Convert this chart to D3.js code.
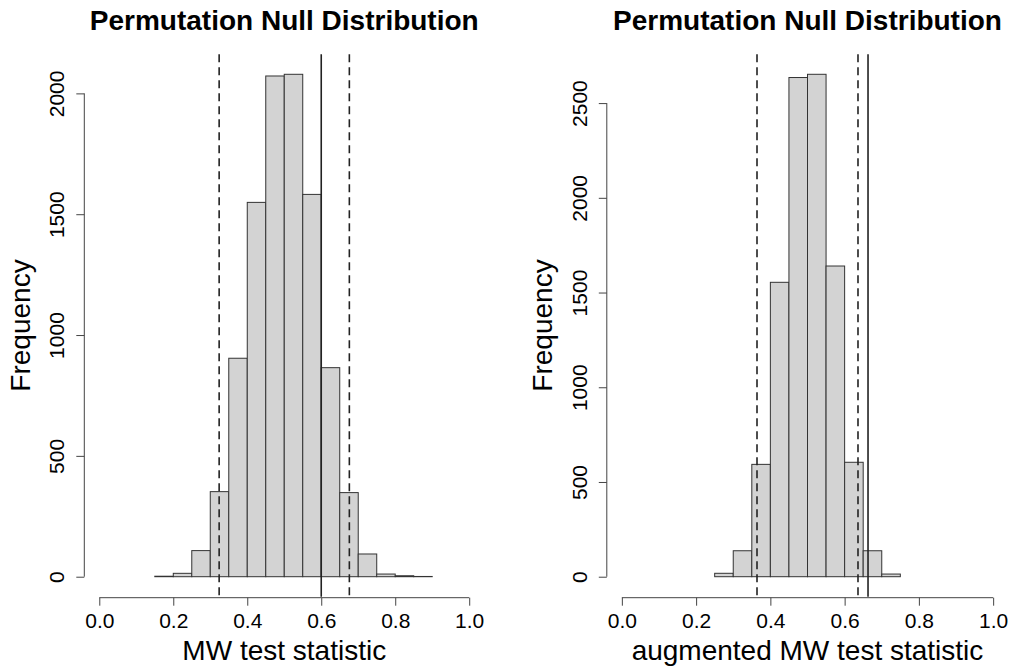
<!DOCTYPE html>
<meta charset="utf-8">
<style>
    body { margin: 0; background: #fff; }
    svg text { font-family: "Liberation Sans", Arial, sans-serif; fill: #000; }
    .bar { fill: #d3d3d3; stroke: #333; stroke-width: 1; }
</style>
<body>
<script src="https://d3js.org/d3.v7.min.js"></script>
<script>

    // Histogram of MW statistic under permutation (bins of 0.05)
    var mwBreaks = [0.15, 0.20, 0.25, 0.30, 0.35, 0.40, 0.45, 0.50, 0.55, 0.60, 0.65, 0.70, 0.75, 0.80, 0.85, 0.90];
    var mwCounts = [2, 14, 108, 352, 904, 1549, 2072, 2079, 1582, 865, 348, 94, 11, 4, 1];
    var mwObserved = 0.6;
    var mwCritical = [0.324, 0.676];
    var mwYTicks = [0, 500, 1000, 1500, 2000];

    // Histogram of augmented MW statistic
    var augBreaks = [0.25, 0.30, 0.35, 0.40, 0.45, 0.50, 0.55, 0.60, 0.65, 0.70, 0.75];
    var augCounts = [18, 137, 593, 1554, 2635, 2652, 1640, 604, 137, 14];
    var augObserved = 0.663;
    var augCritical = [0.364, 0.636];
    var augYTicks = [0, 500, 1000, 1500, 2000, 2500];

    var xTicks = [0, 0.2, 0.4, 0.6, 0.8, 1.0];
    var titles = ["Permutation Null Distribution", "Permutation Null Distribution"];
    var xLabels = ["MW test statistic", "augmented MW test statistic"];

    var width = 1011, height = 669;

    var svg = d3.select("body").append("svg")
        .attr("width", width)
        .attr("height", height);

    function drawPanel(left, right, breaks, counts, observed, critical, yTicks, title, xLabel) {
        var top = 54.2, bottom = 596.8;
        var ymax = d3.max(counts);

        var x = d3.scaleLinear().domain([-0.04, 1.04]).range([left, right]);
        var y = d3.scaleLinear().domain([-0.04 * ymax, 1.04 * ymax]).range([bottom, top]);

        var g = svg.append("g");

        // bars
        var bins = counts.map(function (c, i) { return { x0: breaks[i], x1: breaks[i + 1], n: c }; });
        g.selectAll(".bar")
            .data(bins)
            .enter().append("rect")
            .attr("class", "bar")
            .attr("x", function (d) { return x(d.x0); })
            .attr("width", function (d) { return x(d.x1) - x(d.x0); })
            .attr("y", function (d) { return y(d.n); })
            .attr("height", function (d) { return y(0) - y(d.n); });

        // critical values (dashed) and observed (solid)
        g.selectAll(".crit")
            .data(critical)
            .enter().append("line")
            .attr("class", "crit")
            .attr("x1", function (d) { return x(d); })
            .attr("x2", function (d) { return x(d); })
            .attr("y1", top)
            .attr("y2", bottom)
            .attr("stroke", "#222")
            .attr("stroke-width", 1.6)
            .attr("stroke-dasharray", "8,5");

        g.append("line")
            .attr("x1", x(observed))
            .attr("x2", x(observed))
            .attr("y1", top)
            .attr("y2", bottom)
            .attr("stroke", "#222")
            .attr("stroke-width", 1.6);

        // x axis
        var xAxis = g.append("g")
            .attr("transform", "translate(0," + (bottom + 0.9) + ")")
            .call(d3.axisBottom(x).tickValues(xTicks).tickSize(8).tickFormat(d3.format(".1f")));
        xAxis.select(".domain").remove();
        xAxis.append("line")
            .attr("x1", x(xTicks[0]))
            .attr("x2", x(xTicks[xTicks.length - 1]))
            .attr("stroke", "#444");
        xAxis.selectAll(".tick line").attr("stroke", "#444");
        xAxis.selectAll(".tick text")
            .attr("y", 30)
            .attr("dy", null)
            .style("font-size", "21px")
            .style("font-family", "'Liberation Sans', Arial, sans-serif");

        // y axis
        var yAxis = g.append("g")
            .attr("transform", "translate(" + (left - 0.2) + ",0)")
            .call(d3.axisLeft(y).tickValues(yTicks).tickSize(8).tickFormat(d3.format("d")));
        yAxis.select(".domain").remove();
        yAxis.append("line")
            .attr("y1", y(yTicks[0]))
            .attr("y2", y(yTicks[yTicks.length - 1]))
            .attr("stroke", "#444");
        yAxis.selectAll(".tick line").attr("stroke", "#444");
        yAxis.selectAll(".tick text")
            .attr("transform", "rotate(-90)")
            .attr("x", 0)
            .attr("y", -20)
            .attr("dy", null)
            .attr("text-anchor", "middle")
            .style("font-size", "21px")
            .style("font-family", "'Liberation Sans', Arial, sans-serif");

        // titles
        svg.append("text")
            .attr("x", (left + right) / 2)
            .attr("y", 30)
            .attr("text-anchor", "middle")
            .style("font-size", "28px")
            .style("font-weight", "bold")
            .text(title);

        svg.append("text")
            .attr("x", (left + right) / 2)
            .attr("y", 660)
            .attr("text-anchor", "middle")
            .style("font-size", "28px")
            .text(xLabel);

        svg.append("text")
            .attr("transform", "translate(" + (left - 55) + "," + ((top + bottom) / 2) + ") rotate(-90)")
            .attr("text-anchor", "middle")
            .style("font-size", "28px")
            .text("Frequency");
    }

    drawPanel(84.5, 484, mwBreaks, mwCounts, mwObserved, mwCritical, mwYTicks, titles[0], xLabels[0]);
    drawPanel(607, 1008, augBreaks, augCounts, augObserved, augCritical, augYTicks, titles[1], xLabels[1]);

</script>
</body>
